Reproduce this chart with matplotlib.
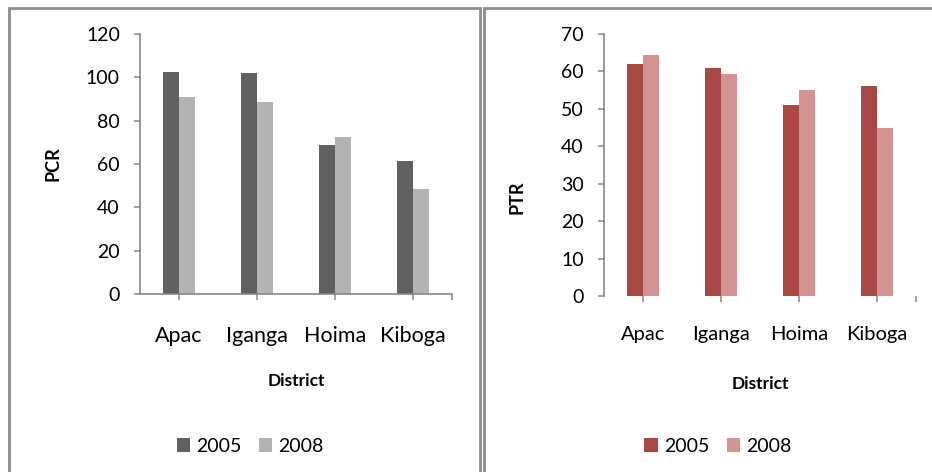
import numpy as np
import matplotlib
matplotlib.use("Agg")
import matplotlib.pyplot as plt
from matplotlib.lines import Line2D

plt.rcParams['font.family'] = ['Lato', 'DejaVu Sans']

districts = ['Apac', 'Iganga', 'Hoima', 'Kiboga']
years = ['2005', '2008']
pcr_2005 = [102.5, 102, 69, 61.5]
pcr_2008 = [90.8, 88.5, 72.6, 48.5]
ptr_2005 = [62, 61, 51, 56]
ptr_2008 = [64.3, 59.2, 55, 45]

grey_cols = ['#606060', '#b3b3b3']
red_cols = ['#aa4846', '#d49393']
axis_col = '#868686'
W, H = 932, 472

fig = plt.figure(figsize=(W / 100, H / 100), dpi=100)

# panel frames (each chart sits in its own box)
def frame(points):
    xs = [p[0] / W for p in points]
    ys = [1 - p[1] / H for p in points]
    fig.add_artist(Line2D(xs, ys, transform=fig.transFigure,
                          color='#8c8c8c', lw=2.0, solid_joinstyle='miter'))

frame([(9, 472), (9, 8), (480, 8), (480, 472)])
frame([(484, 472), (484, 8), (932, 8)])


def bar_panel(rect, v05, v08, cols, ymax, ystep, ylabel, ylab_y, leg_x, leg_y,
              show_xline, xfs, xpad):
    ax = fig.add_axes(rect)
    x = np.arange(len(districts))
    w = 0.2
    ax.bar(x - w / 2, v05, w, color=cols[0], label=years[0])
    ax.bar(x + w / 2, v08, w, color=cols[1], label=years[1])
    ax.set_xlim(-0.5, 3.5)
    ax.set_ylim(0, ymax)
    ax.set_yticks(np.arange(0, ymax + 1, ystep))
    ax.set_xticks(list(x) + [3.5])
    ax.set_xticklabels(districts + [''])
    for s in ['top', 'right']:
        ax.spines[s].set_visible(False)
    for s in ['left', 'bottom']:
        ax.spines[s].set_color(axis_col)
        ax.spines[s].set_linewidth(1.2)
    ax.spines['bottom'].set_visible(show_xline)
    ax.tick_params(axis='both', colors=axis_col, length=4.5, width=1.1,
                   labelcolor='black')
    ax.tick_params(axis='y', labelsize=14, pad=10)
    ax.tick_params(axis='x', labelsize=xfs, pad=xpad)
    ax.text(0.5, -0.335, 'District', transform=ax.transAxes, ha='center',
            va='center', fontsize=12.5, fontweight='bold')
    ax.text(-0.279, ylab_y, ylabel, transform=ax.transAxes, ha='center',
            va='center', rotation=90, fontsize=13, fontweight='bold')
    ax.legend(loc='center', bbox_to_anchor=(leg_x, leg_y), ncol=2,
              frameon=False, fontsize=14, handlelength=0.7,
              handleheight=0.7, handletextpad=0.3, columnspacing=0.9)
    return ax


bar_panel([140 / W, 178 / H, 312 / W, 260 / H], pcr_2005, pcr_2008,
          grey_cols, 120, 20, 'PCR', 0.5, 0.353, -0.585, True, 15.5, 18.5)
bar_panel([604 / W, 176 / H, 312 / W, 262 / H], ptr_2005, ptr_2008,
          red_cols, 70, 10, 'PTR', 0.378, 0.365, -0.573, False, 14.5, 17)

fig.savefig('out.png', dpi=100)
